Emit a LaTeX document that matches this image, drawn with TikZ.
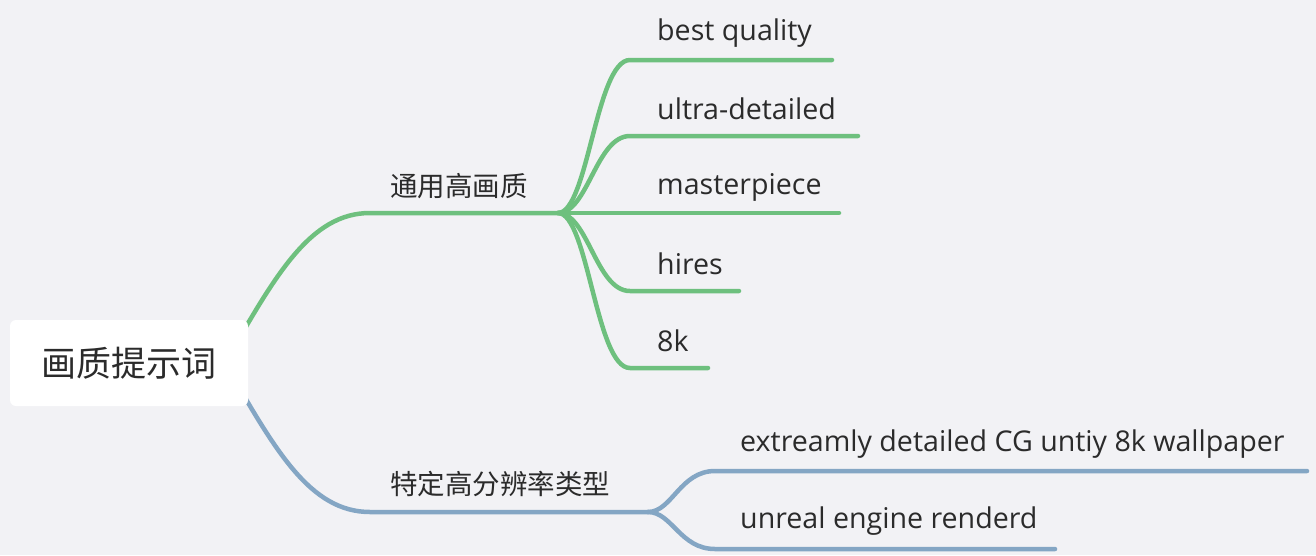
\documentclass[tikz,border=0pt]{standalone}
\usepackage{fontspec}
\setmainfont{Open Sans}
\newfontfamily\cjk{Noto Sans CJK SC}
\definecolor{bgc}{HTML}{F2F2F5}
\definecolor{grn}{HTML}{6EC07E}
\definecolor{blu}{HTML}{84A6C4}
\definecolor{txt}{HTML}{2B2B2B}
\begin{document}
\begin{tikzpicture}[x=1pt,y=-1pt,
  conn/.style={line width=4.5pt,line cap=round},
  gconn/.style={conn,draw=grn},
  bconn/.style={conn,draw=blu},
  leaf/.style={anchor=west,inner sep=0pt,text=txt,font=\fontsize{28.6}{34}\selectfont},
  mid/.style={anchor=west,inner sep=0pt,text=txt,font=\cjk\fontsize{27.5}{33}\selectfont},
  rootbox/.style={fill=white,rounded corners=6pt,minimum width=238pt,minimum height=86pt,inner sep=0pt,text=txt,font=\cjk\fontsize{35}{42}\selectfont}]
\fill[bgc] (0,0) rectangle (1316,555);
\useasboundingbox (0,0) rectangle (1316,555);
% coordinates
\coordinate (rs) at (225,363);
\coordinate (g1) at (370,213);
\coordinate (gj) at (558,213);
\coordinate (b1) at (370,512);
\coordinate (bj) at (648,512);
% children line starts/ends
\coordinate (c1s) at (630,60);  \coordinate (c1e) at (832,60);
\coordinate (c2s) at (630,136); \coordinate (c2e) at (858,136);
\coordinate (c3s) at (630,213); \coordinate (c3e) at (839,213);
\coordinate (c4s) at (630,291); \coordinate (c4e) at (739,291);
\coordinate (c5s) at (630,368); \coordinate (c5e) at (708,368);
\coordinate (d1s) at (715,471); \coordinate (d1e) at (1307,471);
\coordinate (d2s) at (715,549); \coordinate (d2e) at (1055,549);
% connectors root to branches
\draw[gconn] (rs) .. controls (275,276) and (310,213) .. (g1) -- (gj);
\draw[bconn] (rs) .. controls (275,450) and (310,512) .. (b1) -- (bj);
% green children
\foreach \c in {c1,c2,c3,c4,c5}{
  \draw[gconn] (gj) .. controls (588,213) and (596,213 |- \c s) .. (\c s) -- (\c e);
}
\foreach \c in {d1,d2}{
  \draw[bconn] (bj) .. controls (672,512) and (680,512 |- \c s) .. (\c s) -- (\c e);
}
% root
\node[rootbox] (root) at (129,363) {画质提示词};
% texts
\node[mid] (m1) at (390,186) {通用高画质};
\node[mid] (m2) at (390,484) {特定高分辨率类型};
\node[leaf] (l1) at (657,33) {best quality};
\node[leaf] (l2) at (657,109) {ultra-detailed};
\node[leaf] (l3) at (657,187) {masterpiece};
\node[leaf] (l4) at (657,264) {hires};
\node[leaf] (l5) at (657,341) {8k};
\node[leaf] (l6) at (740,444) {extreamly detailed CG untiy 8k wallpaper};
\node[leaf] (l7) at (740,521) {unreal engine renderd};
\end{tikzpicture}
\end{document}
